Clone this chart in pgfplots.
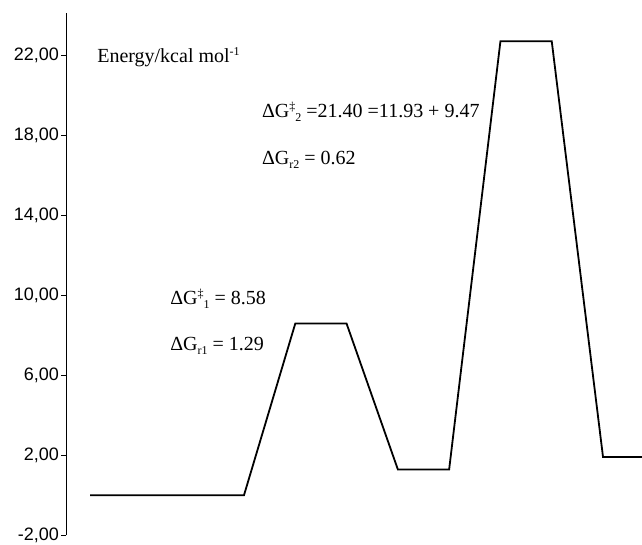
\documentclass[border=0pt]{standalone}
\usepackage{fontspec}
\setmainfont{Liberation Serif}
\setsansfont{Liberation Sans}
\usepackage{pgfplots}
\pgfplotsset{compat=1.18}
\newcommand{\mysub}[1]{\raisebox{-4pt}{\fontsize{12}{12}\selectfont #1}}
\newcommand{\mysup}[1]{\raisebox{7pt}{\fontsize{12}{12}\selectfont #1}}
\begin{document}
\begin{tikzpicture}[x=1pt,y=1pt]
\begin{axis}[
  scale only axis,
  width=576pt, height=522pt,
  xmin=-0.47, xmax=10.76,
  ymin=-2, ymax=24.1,
  axis x line=none,
  axis y line=left,
  axis line style={-, line width=0.8pt},
  ytick={-2,2,6,10,14,18,22},
  ytick pos=left,
  tick align=outside,
  major tick length=5pt,
  tick style={line width=0.8pt, black},
  yticklabel style={font=\sffamily\fontsize{18}{18}\selectfont, /pgf/number format/assume math mode=true, inner sep=2pt},
  /pgf/number format/.cd, fixed, fixed zerofill, precision=2, use comma,
  /pgfplots/.cd,
  clip=true,
]
\addplot[black, line width=1.8pt] coordinates {
  (0,0) (3,0) (4,8.58) (5,8.58) (6,1.29) (7,1.29) (8,22.69) (9,22.69) (10,1.91) (11,1.91)
};
\node[anchor=base west, inner sep=0pt, font=\fontsize{20}{20}\selectfont] at (axis cs:0.136,21.65) {Energy/kcal mol\mysup{-1}};
\node[anchor=base west, inner sep=0pt, font=\fontsize{20}{20}\selectfont] at (axis cs:3.35,18.9) {ΔG\mysup{‡}\mysub{2} =21.40 =11.93 + 9.47};
\node[anchor=base west, inner sep=0pt, font=\fontsize{20}{20}\selectfont] at (axis cs:3.35,16.55) {ΔG\mysub{r2} = 0.62};
\node[anchor=base west, inner sep=0pt, font=\fontsize{20}{20}\selectfont] at (axis cs:1.56,9.55) {ΔG\mysup{‡}\mysub{1} = 8.58};
\node[anchor=base west, inner sep=0pt, font=\fontsize{20}{20}\selectfont] at (axis cs:1.56,7.25) {ΔG\mysub{r1} = 1.29};
\end{axis}
\path (current axis.south west) ++(-66pt,-9pt) coordinate (bbA);
\path (current axis.north east) ++(0pt,13pt) coordinate (bbB);
\path (bbA) rectangle (bbB);
\end{tikzpicture}
\end{document}
